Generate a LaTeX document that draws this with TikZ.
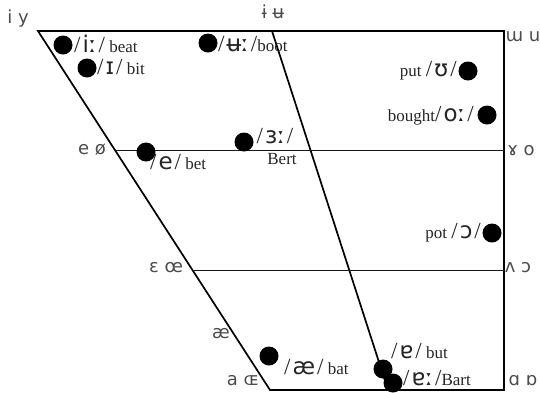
\documentclass[tikz,border=0pt]{standalone}
\usepackage{fontspec}
\setmainfont{Liberation Serif}
\newfontfamily\ipa{DejaVu Sans}
\usetikzlibrary{calc}
\newcommand{\ph}[1]{{\fontsize{23}{25}\selectfont/\kern2pt{\ipa #1}\kern2pt/}}

\begin{document}
\begin{tikzpicture}[
  x=1pt, y=-1pt,
  chart/.style={line width=1.7pt, black},
  vowel/.style={circle, fill=black, inner sep=0pt, minimum size=19pt},
  word/.style={inner sep=0pt, text=black!85, font=\fontsize{17}{20}\selectfont},
  corner/.style={inner sep=0pt, font=\ipa\fontsize{18}{20}\selectfont, text=black!70}
]
  \clip (0,0) rectangle (540,392);
  \coordinate (fc) at (38,31);
  \coordinate (cc) at (272,31);
  \coordinate (bc) at (504,31);
  \coordinate (fo) at (270,390);
  \coordinate (co) at (388,390);
  \coordinate (bo) at (504,390);
  \coordinate (fcm) at ($(fc)!1/3!(fo)$);
  \coordinate (fom) at ($(fc)!2/3!(fo)$);
  \coordinate (bcm) at ($(bc)!1/3!(bo)$);
  \coordinate (bom) at ($(bc)!2/3!(bo)$);
  \draw[chart] (fc) -- (bc) -- (bo) -- (fo) -- cycle;
  \draw[chart] (cc) -- (co);
  \draw[line width=1.5pt, black!90] (fcm) -- (bcm);
  \draw[line width=1.5pt, black!90] (fom) -- (bom);
  % corner symbols
  \node[corner] (ciy) at (18,19) {i y};
  \node[corner] (ccu) at (273,12) {ɨ ʉ};
  \node[corner] (cbu) at (523,37) {ɯ u};
  \node[corner] (cfe) at (92,150) {e ø};
  \node[corner] (cbo) at (521,151) {ɤ o};
  \node[corner] (cfeps) at (166,268) {ɛ œ};
  \node[corner] (cbv) at (518,268) {ʌ ɔ};
  \node[corner] (cae) at (221,334) {æ};
  \node[corner] (cfa) at (243,381) {a ɶ};
  \node[corner] (cba) at (523,381) {ɑ ɒ};
  % vowels
  \node[vowel] (dbeat) at (63,45) {};
  \node[vowel] (dbit) at (87,68) {};
  \node[vowel] (dboot) at (208,43) {};
  \node[vowel] (dput) at (468,71) {};
  \node[vowel] (dbought) at (487,115) {};
  \node[vowel] (dbet) at (146,152) {};
  \node[vowel] (dbert) at (244,142) {};
  \node[vowel] (dpot) at (492,233) {};
  \node[vowel] (dbat) at (269,356) {};
  \node[vowel] (dbut) at (383,369) {};
  \node[vowel] (dbart) at (393,383) {};
  \node[word, anchor=west] (lbeat) at (74,44) {\ph{iː} beat};
  \node[word, anchor=west] (lbit) at (97,67) {\ph{ɪ} bit};
  \node[word, anchor=west] (lboot) at (218,44) {\ph{ʉː}boot};
  \node[word, anchor=east] (lput) at (457,71) {put \ph{ʊ}};
  \node[word, anchor=east] (lbought) at (474,116) {bought\ph{oː}};
  \node[word, anchor=west] (lbet) at (150,162) {\ph{e} bet};
  \node[word] (lbertipa) at (275,136) {\ph{ɜː}};
  \node[word] (lbert) at (282,159) {Bert};
  \node[word, anchor=east] (lpot) at (481,233) {pot \ph{ɔ}};
  \node[word, anchor=west] (lbat) at (284,367) {\ph{æ} bat};
  \node[word, anchor=west] (lbut) at (391,351) {\ph{ɐ} but};
  \node[word, anchor=west] (lbart) at (403,378) {\ph{ɐː}Bart};
\end{tikzpicture}
\end{document}
